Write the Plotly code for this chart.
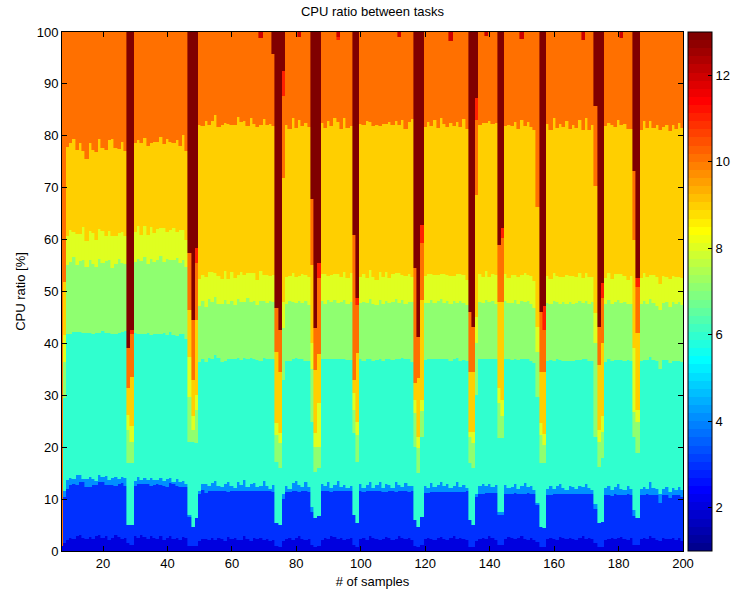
import math
import plotly.graph_objects as go

# ---------------- data ----------------
samples = list(range(7, 201))  # sample numbers 7..200

task2 = [1.0, 1.5, 2.2, 2.6, 2.4, 2.9, 3.0, 2.5, 2.3, 2.7,
         2.4, 2.9, 3.1, 2.6, 2.8, 2.2, 2.5, 3.0, 2.7, 2.4,
         2.6, 1.5, 1.2, 2.8, 2.5, 3.1, 2.7, 2.3, 2.9, 2.6,
         2.4, 2.8, 2.2, 2.5, 2.9, 2.3, 2.6, 2.1, 2.7, 2.5,
         1.0, 1.0, 1.0, 2.0, 2.3, 2.4, 2.1, 2.5, 2.2, 2.6,
         2.4, 2.0, 2.7, 2.3, 2.5, 2.1, 2.2, 2.8, 2.4, 2.0,
         2.5, 2.3, 2.6, 2.2, 2.4, 2.0, 2.1, 1.0, 0.8, 2.0,
         2.3, 2.6, 2.2, 2.5, 2.8, 2.4, 2.1, 2.3, 1.2, 0.8,
         1.0, 2.2, 2.6, 2.4, 2.9, 2.7, 2.3, 2.5, 2.1, 2.4,
         2.6, 1.2, 0.8, 2.3, 2.5, 2.2, 2.8, 2.6, 2.4, 2.1,
         2.3, 2.7, 2.5, 2.2, 2.4, 2.9, 2.6, 2.3, 2.5, 2.2,
         1.0, 0.8, 1.2, 2.4, 2.6, 2.3, 2.1, 2.5, 2.7, 2.4,
         2.2, 2.5, 2.8, 2.4, 2.6, 2.3, 2.1, 0.8, 0.8, 2.0,
         2.4, 2.6, 2.3, 2.9, 2.5, 2.2, 1.2, 1.2, 2.4, 2.7,
         2.5, 2.3, 2.6, 2.8, 2.4, 2.2, 2.5, 2.1, 1.8, 0.8,
         0.8, 2.3, 2.6, 2.4, 2.2, 2.7, 2.5, 2.3, 2.6, 2.4,
         2.2, 2.5, 2.8, 2.4, 2.6, 2.3, 1.5, 0.8, 0.8, 2.2,
         2.4, 2.6, 2.3, 2.5, 2.7, 2.4, 2.2, 2.5, 1.2, 1.2,
         2.3, 2.6, 2.4, 2.8, 2.5, 2.2, 2.0, 2.6, 2.4, 2.3,
         2.5, 2.2, 2.6, 2.0]

task3 = [0.0, 9.0, 9.8, 10.2, 10.6, 9.9, 10.3, 10.8, 10.1, 9.7,
         10.4, 9.8, 10.1, 10.6, 9.9, 10.5, 10.2, 9.6, 10.3, 10.7,
         10.0, 3.5, 3.8, 9.8, 10.4, 9.9, 10.2, 10.6, 9.7, 10.1,
         10.5, 10.0, 10.4, 9.8, 10.2, 10.6, 9.9, 10.3, 9.6, 9.9,
         5.5, 3.6, 5.4, 9.0, 9.4, 8.8, 9.5, 9.1, 9.3, 8.9,
         9.2, 9.6, 8.7, 9.3, 9.0, 9.5, 9.4, 8.8, 9.1, 9.6,
         9.0, 9.3, 8.9, 9.4, 9.1, 9.5, 9.2, 4.4, 4.2, 8.0,
         9.1, 8.8, 9.4, 9.0, 8.6, 9.2, 9.5, 9.0, 6.4, 5.6,
         5.8, 9.3, 8.9, 9.1, 8.5, 8.8, 9.2, 9.0, 9.4, 9.1,
         8.9, 5.7, 4.6, 9.2, 8.8, 9.3, 8.7, 9.0, 9.2, 9.5,
         9.0, 8.7, 9.1, 9.3, 8.9, 8.6, 9.0, 9.2, 8.8, 9.3,
         5.0, 3.8, 5.4, 8.8, 8.6, 9.1, 9.3, 8.9, 8.7, 9.0,
         9.2, 8.8, 8.5, 9.0, 8.8, 9.1, 9.4, 5.2, 4.2, 8.4,
         8.6, 8.4, 8.9, 8.2, 8.7, 9.0, 5.8, 5.8, 8.6, 8.3,
         8.5, 8.8, 8.4, 8.2, 8.6, 8.9, 8.5, 8.8, 7.0, 3.8,
         3.6, 8.4, 8.1, 8.5, 8.8, 8.2, 8.4, 8.7, 8.3, 8.6,
         8.8, 8.4, 8.2, 8.6, 8.3, 8.7, 6.5, 4.6, 4.8, 8.5,
         8.3, 8.0, 8.6, 8.2, 8.0, 8.4, 8.7, 8.3, 5.5, 5.2,
         8.4, 8.1, 8.5, 8.0, 8.2, 8.6, 7.2, 8.1, 8.3, 8.0,
         8.2, 8.5, 8.1, 8.4]

task4 = [0.0, 1.0, 1.6, 1.2, 0.8, 1.8, 1.4, 0.6, 1.5, 1.9,
         1.1, 0.7, 1.4, 1.0, 1.7, 0.9, 1.3, 1.6, 0.8, 1.2,
         1.5, 0.0, 0.0, 0.9, 1.3, 0.6, 1.1, 0.8, 1.4, 1.0,
         0.7, 1.2, 0.9, 1.5, 1.0, 0.4, 1.3, 0.8, 1.1, 0.6,
         0.5, 0.0, 0.0, 0.6, 1.2, 1.8, 0.9, 1.5, 2.0, 1.1,
         0.8, 1.4, 1.9, 1.0, 0.6, 1.7, 1.2, 2.1, 0.9, 1.3,
         1.6, 0.7, 1.1, 1.8, 1.0, 0.5, 1.4, 0.0, 0.0, 1.0,
         1.2, 0.6, 1.5, 2.0, 1.3, 0.8, 1.6, 1.1, 0.9, 0.0,
         0.0, 1.4, 1.0, 1.7, 0.7, 1.2, 1.9, 0.9, 1.3, 0.6,
         1.1, 0.0, 0.0, 1.5, 0.8, 1.3, 1.8, 0.6, 1.2, 1.6,
         0.9, 1.5, 1.1, 0.7, 1.9, 1.3, 0.8, 1.6, 1.2, 1.0,
         0.0, 0.0, 0.0, 1.4, 1.0, 1.7, 0.9, 1.3, 1.8, 1.1,
         1.5, 0.8, 1.2, 1.9, 1.0, 1.4, 0.7, 0.0, 0.0, 0.5,
         1.6, 2.0, 1.3, 1.8, 1.1, 1.5, 0.5, 0.5, 1.7, 1.2,
         1.4, 1.9, 1.0, 1.6, 2.1, 1.2, 1.5, 0.9, 0.5, 0.0,
         0.0, 1.3, 1.8, 1.1, 1.5, 2.0, 1.2, 0.8, 1.6, 1.3,
         1.0, 1.7, 1.4, 1.9, 1.2, 0.8, 1.0, 0.0, 0.0, 1.4,
         1.8, 1.1, 1.5, 2.2, 1.3, 1.0, 1.6, 1.2, 1.2, 0.0,
         1.3, 1.7, 1.0, 2.4, 1.5, 1.1, 1.8, 1.2, 1.6, 1.0,
         1.4, 1.1, 1.7, 1.3]

task6 = [0.0, 18.0, 28.3, 27.9, 28.4, 27.6, 27.5, 28.1, 28.2, 27.8,
         28.0, 28.6, 27.4, 28.1, 27.7, 28.5, 27.9, 27.6, 28.3, 27.9,
         28.2, 12.0, 12.0, 28.5, 27.6, 28.3, 27.8, 28.4, 27.7, 28.2,
         28.3, 27.9, 28.6, 27.8, 28.1, 28.4, 27.7, 28.6, 28.5, 27.8,
         14.0, 16.4, 14.4, 24.8, 24.0, 23.5, 24.6, 23.9, 24.2, 24.5,
         24.1, 23.7, 23.6, 24.3, 24.8, 23.8, 24.0, 23.4, 24.6, 24.2,
         23.9, 24.5, 24.1, 23.7, 24.4, 24.9, 24.2, 11.8, 11.0, 22.0,
         24.0, 24.7, 23.8, 23.6, 24.2, 24.5, 23.5, 24.3, 16.4, 8.9,
         9.2, 24.1, 24.4, 23.8, 24.9, 24.2, 23.6, 24.5, 24.1, 24.7,
         24.2, 15.8, 11.8, 24.0, 24.6, 24.1, 23.7, 24.4, 24.0, 23.8,
         24.5, 24.0, 24.3, 24.6, 23.7, 24.1, 24.8, 23.9, 24.4, 24.0,
         14.1, 10.4, 15.4, 24.2, 24.8, 23.9, 24.6, 24.2, 23.8, 24.5,
         24.0, 24.6, 24.5, 23.8, 24.3, 24.0, 24.4, 11.0, 11.0, 19.1,
         24.3, 24.0, 24.5, 24.1, 24.6, 24.2, 14.3, 14.3, 24.2, 24.7,
         24.4, 23.9, 24.8, 24.3, 23.9, 24.6, 24.1, 24.5, 20.4, 12.4,
         12.6, 24.6, 24.3, 24.7, 24.5, 23.9, 24.6, 24.9, 24.2, 24.4,
         24.8, 24.2, 24.5, 24.0, 24.6, 24.9, 13.0, 10.8, 12.3, 24.4,
         24.5, 25.0, 24.4, 23.9, 24.8, 24.9, 24.3, 24.6, 14.1, 12.5,
         24.7, 24.4, 24.9, 24.1, 24.6, 24.8, 24.0, 24.9, 24.5, 25.0,
         24.6, 24.9, 24.3, 24.8]

task7 = [0.0, 7.0, 13.2, 13.8, 14.5, 12.9, 13.6, 14.1, 12.7, 13.9,
         13.4, 12.8, 14.3, 13.1, 13.7, 14.0, 12.6, 13.5, 14.2, 13.3,
         13.0, 6.3, 4.0, 13.6, 14.4, 13.9, 14.8, 13.2, 14.6, 13.8,
         14.1, 14.9, 13.5, 14.7, 13.8, 14.3, 15.0, 13.6, 14.2, 13.9,
         8.7, 2.3, 6.4, 10.8, 11.3, 10.6, 11.5, 10.9, 11.2, 10.5,
         11.0, 11.6, 10.7, 11.3, 10.5, 11.4, 11.1, 10.8, 11.7, 10.9,
         11.2, 10.6, 11.5, 11.0, 10.8, 11.3, 11.0, 5.1, 4.8, 10.0,
         10.9, 11.4, 11.1, 10.6, 11.2, 10.8, 11.5, 10.7, 10.1, 4.7,
         4.0, 11.1, 10.6, 11.3, 10.9, 11.5, 10.8, 11.0, 11.4, 10.7,
         11.2, 4.5, 5.1, 10.8, 11.3, 10.9, 11.5, 11.0, 10.6, 11.4,
         10.9, 11.3, 10.7, 11.1, 11.6, 10.8, 11.2, 10.6, 11.0, 11.5,
         6.5, 4.8, 5.0, 11.0, 10.7, 11.4, 10.9, 11.2, 11.6, 10.8,
         11.3, 10.9, 11.2, 10.7, 11.5, 11.0, 10.8, 5.0, 4.8, 10.0,
         11.1, 10.8, 11.4, 10.9, 11.2, 10.6, 6.7, 4.2, 11.3, 10.8,
         11.0, 11.5, 10.7, 11.2, 10.9, 11.3, 11.0, 10.6, 8.6, 5.3,
         3.5, 11.1, 10.8, 11.4, 11.0, 10.7, 11.3, 10.9, 11.2, 10.8,
         11.0, 11.4, 10.8, 11.2, 10.9, 11.3, 18.0, 4.8, 5.1, 11.0,
         11.3, 10.8, 11.1, 11.5, 10.9, 11.2, 10.7, 11.0, 4.8, 6.0,
         10.9, 11.3, 10.8, 11.2, 11.0, 10.6, 11.4, 10.9, 11.1, 10.7,
         11.2, 10.8, 11.3, 10.9]

task8 = [0.0, 5.1, 5.5, 6.2, 4.8, 5.9, 5.3, 6.4, 5.0, 5.7,
         6.0, 5.2, 5.8, 6.3, 4.9, 5.6, 6.1, 5.4, 5.0, 5.9,
         5.3, 2.9, 3.0, 5.8, 6.4, 5.1, 6.0, 5.5, 6.2, 5.6,
         6.1, 5.4, 6.6, 5.2, 5.9, 6.3, 5.0, 6.5, 5.7, 5.3,
         7.7, 2.7, 2.8, 5.3, 4.9, 5.6, 5.1, 5.8, 4.7, 5.4,
         5.0, 5.7, 4.8, 5.5, 5.2, 4.6, 5.9, 5.3, 4.9, 5.6,
         5.4, 4.8, 5.7, 5.0, 5.5, 4.7, 5.2, 2.3, 1.9, 5.0,
         5.3, 4.9, 5.6, 5.1, 4.8, 5.7, 5.0, 5.4, 5.0, 2.7,
         8.5, 5.2, 5.8, 4.7, 5.3, 5.0, 5.6, 4.9, 5.4, 5.1,
         5.5, 3.2, 2.6, 5.0, 5.4, 4.8, 5.7, 5.2, 4.9, 5.3,
         5.1, 5.6, 4.9, 5.4, 5.0, 5.8, 4.7, 5.3, 5.5, 4.8,
         2.5, 2.2, 2.1, 5.2, 5.6, 4.9, 5.4, 5.0, 4.7, 5.5,
         5.0, 5.3, 4.8, 5.6, 5.1, 5.4, 4.9, 1.0, 2.2, 5.0,
         5.3, 5.0, 5.5, 4.8, 5.2, 5.6, 2.9, 3.0, 5.1, 4.9,
         5.4, 4.8, 5.2, 5.0, 5.6, 4.9, 5.3, 5.1, 4.9, 2.3,
         2.0, 5.2, 4.9, 5.5, 5.0, 5.3, 4.8, 5.6, 5.1, 5.4,
         5.0, 5.3, 4.9, 5.5, 5.2, 4.8, 5.8, 2.3, 3.0, 5.1,
         5.2, 4.9, 5.4, 5.0, 5.6, 5.1, 4.8, 5.3, 12.3, 2.3,
         5.0, 5.4, 5.1, 4.7, 5.3, 5.5, 5.0, 5.2, 4.9, 5.4,
         5.1, 5.3, 4.8, 5.2]

task9 = [0.0, 10.2, 17.3, 16.8, 17.9, 16.2, 17.5, 14.6, 15.8, 17.0,
         15.9, 16.8, 17.2, 16.0, 16.5, 17.4, 18.8, 16.9, 16.2, 17.5,
         16.4, 5.2, 9.6, 17.3, 16.6, 17.8, 16.9, 17.2, 16.1, 17.6,
         16.8, 17.5, 16.3, 17.9, 17.0, 16.4, 17.6, 16.2, 18.3, 17.1,
         9.0, 7.0, 14.5, 29.5, 28.8, 30.1, 28.4, 29.2, 30.5, 28.7,
         29.6, 28.5, 29.9, 28.3, 29.4, 30.6, 28.9, 29.7, 28.2, 29.8,
         28.6, 29.5, 28.1, 30.2, 28.8, 29.4, 28.7, 13.8, 11.8, 23.9,
         29.3, 28.4, 29.9, 28.7, 30.1, 28.5, 29.2, 28.9, 15.1, 12.2,
         9.5, 29.1, 28.3, 29.8, 28.6, 30.0, 29.3, 28.5, 29.7, 28.9,
         28.4, 2.5, 13.3, 29.5, 28.7, 30.3, 28.5, 29.1, 29.8, 28.2,
         29.6, 28.4, 30.0, 28.8, 29.3, 28.6, 29.9, 28.5, 29.2, 30.4,
         3.3, 11.3, 19.3, 28.7, 29.4, 28.6, 29.8, 28.4, 30.1, 29.0,
         28.5, 29.6, 28.9, 29.3, 28.4, 30.0, 29.1, 11.5, 11.5, 23.6,
         28.8, 29.7, 28.5, 30.2, 28.9, 29.4, 16.6, 19.0, 28.6, 29.5,
         28.7, 29.4, 28.6, 29.9, 28.3, 29.6, 28.8, 29.2, 23.1, 9.9,
         12.0, 29.3, 28.7, 29.8, 28.5, 29.4, 28.9, 29.6, 28.4, 29.1,
         28.8, 29.5, 28.6, 29.9, 28.4, 29.2, 24.6, 12.5, 14.0, 29.3,
         28.9, 29.6, 28.4, 29.8, 28.7, 29.3, 29.0, 28.5, 20.8, 14.8,
         28.6, 29.4, 28.9, 29.7, 28.5, 29.2, 29.8, 28.8, 29.3, 28.6,
         29.0, 28.5, 29.6, 28.9]

# sparse tasks: {sample: percent}
task11 = {29: 0.8, 49: 2.9, 76: 4.8, 87: 2.9, 93: 0.6, 99: 1.3, 119: 3.5,
          136: 4.3, 144: 1.9, 157: 4.6, 175: 2.9, 186: 1.7}
task12 = {69: 1.2, 81: 1.0, 93: 1.0, 112: 1.0, 128: 1.8, 139: 0.8,
          150: 1.3, 169: 1.6, 181: 1.1}
task13 = {28: 60.9, 29: 57.4, 47: 42.6, 48: 55.5, 49: 41.6, 73: 4.2,
          74: 53.2, 75: 57.4, 76: 7.5, 85: 32.1, 86: 57.0, 87: 44.5,
          98: 39.1, 99: 51.3, 117: 45.5, 118: 58.8, 119: 37.2, 134: 53.9,
          135: 56.8, 136: 12.7, 143: 41.0, 144: 37.8, 156: 53.9, 157: 52.8,
          173: 14.3, 174: 56.8, 175: 48.4, 185: 26.8, 186: 47.4}

for arr in (task2, task3, task4, task6, task7, task8, task9):
    assert len(arr) == len(samples), len(arr)

task11_l = [task11.get(s, 0.0) for s in samples]
task12_l = [task12.get(s, 0.0) for s in samples]
task13_l = [task13.get(s, 0.0) for s in samples]
# task 10 takes the rest of the 100 %
task10 = [max(0.0, 100 - sum(v)) for v in zip(task2, task3, task4, task6, task7,
                                             task8, task9, task11_l, task12_l, task13_l)]

# ---------------- MATLAB jet colormap ----------------
def jet(m=64):
    n = math.ceil(m / 4)
    u = [i / n for i in range(1, n + 1)] + [1.0] * (n - 1) + [i / n for i in range(n, 0, -1)]
    g0 = math.ceil(n / 2) - (1 if m % 4 == 1 else 0)
    cm = [[0.0, 0.0, 0.0] for _ in range(m)]
    for j, val in enumerate(u):
        gi = g0 + j + 1
        ri, bi = gi + n, gi - n
        if 1 <= ri <= m: cm[ri - 1][0] = val
        if 1 <= gi <= m: cm[gi - 1][1] = val
        if 1 <= bi <= m: cm[bi - 1][2] = val
    return cm

CM = jet(64)
def rgb(c):
    return "rgb(%d,%d,%d)" % tuple(round(v * 255) for v in c)

CMIN, CMAX = 1, 13
def color_for(k):
    idx = min(64, int((k - CMIN) / (CMAX - CMIN) * 64) + 1)
    return rgb(CM[idx - 1])

colorscale = []
for i, c in enumerate(CM):
    colorscale.append([i / 64, rgb(c)])
    colorscale.append([(i + 1) / 64, rgb(c)])

layers = [(2, task2), (3, task3), (4, task4), (6, task6), (7, task7), (8, task8),
          (9, task9), (10, task10), (11, task11_l), (12, task12_l), (13, task13_l)]

FONT = "Liberation Sans, Arial, Helvetica, sans-serif"

fig = go.Figure()
for k, vals in layers:
    col = color_for(k)
    fig.add_trace(go.Bar(x=samples, y=vals, width=1, name="task %d" % k,
                         marker=dict(color=col, line=dict(color=col, width=0.6)),
                         showlegend=False, hoverinfo="skip"))

fig.add_trace(go.Scatter(
    x=[None], y=[None], mode="markers", showlegend=False, hoverinfo="skip",
    marker=dict(color=[CMIN], cmin=CMIN, cmax=CMAX, colorscale=colorscale, showscale=True,
                colorbar=dict(x=(688 - 62) / 621, xanchor="left", xpad=0, ypad=0,
                              y=0.5, yanchor="middle", len=1, lenmode="fraction",
                              thickness=24, thicknessmode="pixels",
                              outlinewidth=1, outlinecolor="black",
                              tickvals=[2, 4, 6, 8, 10, 12], ticks="inside", ticklen=4,
                              tickcolor="black", tickwidth=1,
                              tickfont=dict(family=FONT, size=13, color="black")))))

fig.update_layout(
    width=743, height=592,
    margin=dict(l=62, r=60, t=32, b=41, autoexpand=False),
    barmode="stack", bargap=0,
    paper_bgcolor="white", plot_bgcolor="white",
    font=dict(family=FONT, size=13, color="black"),
    title=dict(text="CPU ratio between tasks", x=(372.5) / 743, xanchor="center",
               y=1 - 11 / 592, yanchor="middle", yref="container",
               font=dict(family=FONT, size=13, color="black")),
)
fig.update_xaxes(range=[7.27, 200], tickvals=list(range(20, 201, 20)), ticks="inside",
                 ticklen=5, tickcolor="black", showline=True, linecolor="black", linewidth=1,
                 mirror="ticks", showgrid=False, zeroline=False, layer="above traces",
                 title=dict(text="# of samples", standoff=7,
                            font=dict(family=FONT, size=13)),
                 tickfont=dict(family=FONT, size=13))
fig.update_yaxes(range=[0, 100], tickvals=list(range(0, 101, 10)), ticks="inside",
                 ticklen=5, tickcolor="black", showline=True, linecolor="black", linewidth=1,
                 mirror="ticks", showgrid=False, zeroline=False, layer="above traces",
                 title=dict(text="CPU ratio [%]", standoff=8,
                            font=dict(family=FONT, size=13)),
                 tickfont=dict(family=FONT, size=13))

fig.write_html("out.html")
